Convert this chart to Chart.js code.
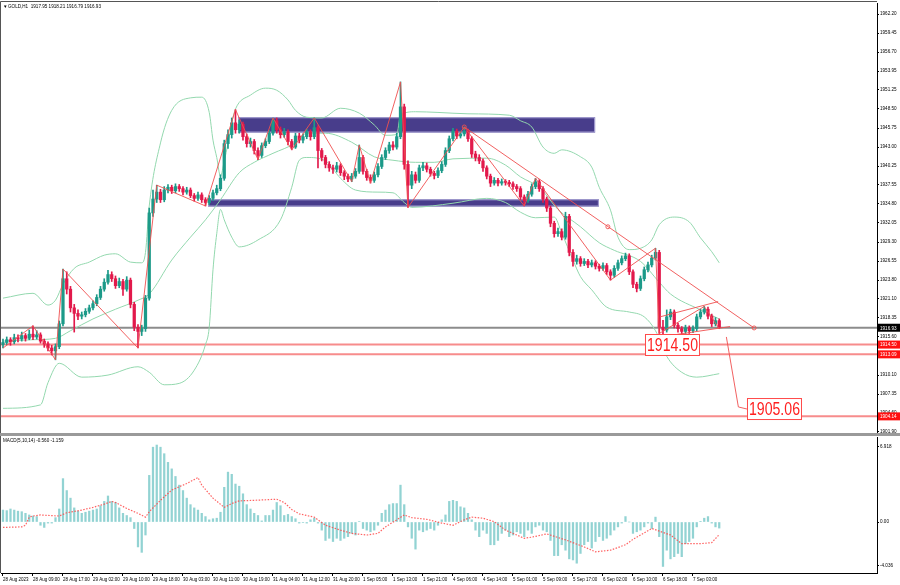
<!DOCTYPE html>
<html><head><meta charset="utf-8">
<script src="https://cdn.jsdelivr.net/npm/chart.js@4.4.0/dist/chart.umd.min.js"></script>
<style>
html,body{margin:0;padding:0;background:#fff;}
#wrap{position:relative;width:900px;height:585px;overflow:hidden;background:#fff;}
#main{position:absolute;left:0;top:0;}
#macd{position:absolute;left:0;top:436px;}
</style></head><body>
<div id="wrap"><canvas id="main" width="900" height="436"></canvas><canvas id="macd" width="900" height="149"></canvas></div>
<script>
// ---------- DATA ----------
const timeLabels = ["28 Aug 2023","28 Aug 09:00","28 Aug 17:00","29 Aug 02:00","29 Aug 10:00","29 Aug 18:00","30 Aug 03:00","30 Aug 11:00","30 Aug 19:00","31 Aug 04:00","31 Aug 12:00","31 Aug 20:00","1 Sep 05:00","1 Sep 13:00","1 Sep 21:00","4 Sep 06:00","4 Sep 14:00","5 Sep 01:00","5 Sep 09:00","5 Sep 17:00","6 Sep 02:00","6 Sep 10:00","6 Sep 18:00","7 Sep 03:00"];
const barsPerTimeLabel = 8;

const opens = [
1914.5,1914.8,1915.2,1914.9,1915.5,1915.3,1915.8,1915.4,1916.0,1915.6,
1915.9,1915.0,1914.6,1914.0,1913.6,1914.2,1917.5,1924.0,1922.5,1919.8,
1919.0,1918.6,1918.8,1919.3,1919.8,1920.4,1921.3,1922.5,1923.5,1924.6,
1924.0,1923.0,1923.6,1922.5,1923.8,1920.3,1917.0,1916.4,1916.8,1921.2,
1933.5,1935.5,1936.5,1935.4,1936.8,1937.2,1936.7,1937.3,1937.0,1936.5,
1936.8,1936.0,1935.6,1936.1,1935.4,1935.0,1935.6,1936.4,1937.0,1938.5,
1943.5,1944.8,1946.5,1945.5,1946.3,1944.5,1943.5,1943.8,1942.5,1941.8,
1943.2,1943.8,1945.0,1946.8,1945.5,1944.8,1945.2,1943.8,1943.0,1944.6,
1944.0,1944.5,1945.2,1944.5,1945.8,1942.5,1941.5,1940.5,1940.0,1939.8,
1940.3,1939.3,1938.8,1938.4,1938.8,1939.5,1941.5,1939.5,1938.6,1938.2,
1939.0,1940.2,1941.5,1942.5,1943.3,1943.0,1944.5,1948.8,1940.5,1937.5,
1939.0,1938.2,1940.0,1940.3,1939.8,1939.2,1938.9,1939.6,1940.5,1942.5,
1944.2,1945.3,1944.6,1944.9,1945.3,1944.2,1942.0,1941.5,1941.0,1940.0,
1938.8,1937.8,1938.2,1937.8,1938.0,1937.9,1937.7,1937.3,1937.0,1935.8,
1935.3,1936.2,1937.3,1938.0,1937.0,1935.5,1934.2,1932.0,1930.5,1930.8,
1930.0,1933.0,1927.8,1926.5,1926.9,1926.2,1926.5,1926.0,1926.3,1925.8,
1925.5,1925.9,1925.0,1924.5,1925.5,1926.3,1926.9,1927.3,1925.0,1923.2,
1922.6,1924.0,1925.3,1926.0,1927.0,1927.8,1917.0,1916.6,1918.5,1919.2,
1917.3,1916.8,1916.4,1916.9,1916.5,1916.8,1918.5,1919.2,1919.6,1918.6,
1917.5,1917.95];
const highs = [
1915.3,1915.6,1915.5,1916.0,1915.9,1916.3,1916.1,1916.6,1917.2,1916.5,
1916.2,1915.3,1914.9,1914.4,1914.6,1917.9,1925.4,1925.0,1922.9,1920.3,
1919.5,1919.2,1919.7,1920.2,1920.8,1921.7,1922.9,1924.0,1925.2,1925.0,
1924.4,1924.1,1923.9,1924.3,1924.1,1920.6,1917.4,1917.3,1921.6,1934.2,
1936.8,1937.5,1936.9,1937.3,1937.6,1937.5,1937.7,1937.6,1937.3,1937.2,
1937.1,1936.3,1936.5,1936.4,1935.7,1936.0,1936.8,1937.5,1939.0,1944.0,
1945.5,1947.2,1948.4,1946.9,1946.6,1944.9,1944.3,1944.1,1942.9,1943.6,
1944.2,1945.4,1947.2,1947.2,1945.9,1945.7,1945.5,1944.1,1945.0,1945.0,
1944.9,1945.6,1945.5,1947.2,1946.1,1942.8,1941.8,1940.9,1940.4,1940.8,
1940.6,1939.6,1939.1,1939.2,1939.9,1943.3,1941.8,1939.8,1939.0,1939.4,
1940.6,1941.9,1942.9,1943.7,1943.8,1945.0,1952.4,1949.2,1941.0,1939.5,
1939.4,1940.4,1940.8,1940.7,1940.1,1939.5,1940.0,1940.9,1942.9,1944.6,
1945.7,1945.6,1945.3,1945.9,1945.6,1944.5,1942.4,1941.9,1941.3,1940.3,
1939.1,1938.6,1938.5,1938.4,1938.3,1938.2,1938.0,1937.6,1937.3,1936.1,
1936.6,1937.7,1938.5,1938.3,1937.3,1935.8,1934.5,1932.3,1931.3,1931.2,
1933.6,1933.3,1928.2,1927.4,1927.2,1926.9,1926.8,1926.7,1926.6,1926.1,
1926.3,1926.2,1925.3,1925.9,1926.7,1927.3,1927.7,1927.6,1925.3,1923.5,
1924.4,1925.7,1926.4,1927.4,1928.4,1928.1,1918.0,1919.5,1919.6,1919.5,
1917.6,1917.1,1917.3,1917.2,1917.2,1918.9,1919.6,1920.0,1919.9,1918.9,
1918.4,1918.21];
const lows = [
1914.0,1914.5,1914.4,1914.6,1914.9,1915.0,1915.0,1915.2,1915.2,1915.3,
1914.7,1914.1,1913.6,1913.0,1912.3,1913.9,1917.2,1921.8,1919.2,1916.3,
1918.1,1918.2,1918.5,1919.0,1919.5,1920.1,1921.0,1922.2,1923.2,1923.6,
1922.6,1922.7,1921.6,1922.2,1919.8,1916.5,1914.0,1915.8,1916.4,1920.9,
1933.0,1935.0,1935.0,1935.1,1936.4,1936.3,1936.4,1936.6,1936.1,1936.2,
1935.7,1935.2,1935.3,1935.0,1934.5,1934.7,1935.3,1936.1,1936.7,1938.2,
1942.8,1944.3,1945.0,1945.0,1944.0,1943.0,1943.0,1942.0,1941.2,1941.5,
1942.9,1943.5,1944.7,1945.0,1944.3,1944.4,1943.3,1942.6,1942.8,1943.6,
1943.6,1944.2,1944.0,1944.2,1940.0,1941.0,1940.0,1939.5,1939.2,1939.4,
1938.9,1938.3,1938.0,1938.0,1938.5,1939.2,1939.1,1938.2,1937.8,1937.9,
1938.7,1939.9,1941.2,1942.1,1942.6,1942.7,1944.2,1939.8,1934.3,1937.0,
1937.8,1937.9,1939.6,1939.4,1938.8,1938.4,1938.6,1939.3,1940.2,1942.2,
1943.9,1944.2,1944.3,1944.6,1943.8,1941.5,1941.0,1940.6,1939.5,1938.4,
1937.3,1937.5,1937.4,1937.5,1937.5,1937.3,1936.9,1936.6,1935.4,1934.5,
1935.0,1935.9,1937.0,1936.6,1935.0,1933.7,1931.5,1930.0,1930.1,1929.6,
1929.7,1927.3,1925.8,1926.1,1925.8,1925.9,1925.6,1925.7,1925.4,1925.1,
1925.2,1924.6,1923.8,1924.2,1925.2,1926.0,1926.6,1924.6,1922.7,1922.1,
1922.3,1923.7,1925.0,1925.7,1926.7,1916.1,1916.0,1916.3,1918.1,1916.9,
1916.3,1916.0,1916.1,1916.1,1916.2,1916.5,1918.2,1918.9,1918.2,1917.1,
1917.2,1916.79];
const closes = [
1914.8,1915.2,1914.9,1915.5,1915.3,1915.8,1915.4,1916.0,1915.6,1915.9,
1915.0,1914.6,1914.0,1913.6,1914.2,1917.5,1924.0,1922.5,1919.8,1919.0,
1918.6,1918.8,1919.3,1919.8,1920.4,1921.3,1922.5,1923.5,1924.6,1924.0,
1923.0,1923.6,1922.5,1923.8,1920.3,1917.0,1916.4,1916.8,1921.2,1933.5,
1935.5,1936.5,1935.4,1936.8,1937.2,1936.7,1937.3,1937.0,1936.5,1936.8,
1936.0,1935.6,1936.1,1935.4,1935.0,1935.6,1936.4,1937.0,1938.5,1943.5,
1944.8,1946.5,1945.5,1946.3,1944.5,1943.5,1943.8,1942.5,1941.8,1943.2,
1943.8,1945.0,1946.8,1945.5,1944.8,1945.2,1943.8,1943.0,1944.6,1944.0,
1944.5,1945.2,1944.5,1945.8,1942.5,1941.5,1940.5,1940.0,1939.8,1940.3,
1939.3,1938.8,1938.4,1938.8,1939.5,1941.5,1939.5,1938.6,1938.2,1939.0,
1940.2,1941.5,1942.5,1943.3,1943.0,1944.5,1948.8,1940.5,1937.5,1939.0,
1938.2,1940.0,1940.3,1939.8,1939.2,1938.9,1939.6,1940.5,1942.5,1944.2,
1945.3,1944.6,1944.9,1945.3,1944.2,1942.0,1941.5,1941.0,1940.0,1938.8,
1937.8,1938.2,1937.8,1938.0,1937.9,1937.7,1937.3,1937.0,1935.8,1935.3,
1936.2,1937.3,1938.0,1937.0,1935.5,1934.2,1932.0,1930.5,1930.8,1930.0,
1933.0,1927.8,1926.5,1926.9,1926.2,1926.5,1926.0,1926.3,1925.8,1925.5,
1925.9,1925.0,1924.5,1925.5,1926.3,1926.9,1927.3,1925.0,1923.2,1922.6,
1924.0,1925.3,1926.0,1927.0,1927.8,1917.0,1916.6,1918.5,1919.2,1917.3,
1916.8,1916.4,1916.9,1916.5,1916.8,1918.5,1919.2,1919.6,1918.6,1917.5,
1917.95,1916.93];

// Bollinger bands: [bar index, price]
const upperBand = [[0,1921.2],[8,1921.9],[12,1920.2],[14,1920.9],[16,1923.2],[19,1925.5],[23,1926.4],[27,1927.4],[30,1927.6],[34,1926.4],[37,1926.3],[38,1927.8],[39,1934.5],[42,1943.6],[45,1948.3],[50,1950.1],[53,1950.2],[55,1948.0],[56,1944.0],[57,1941.5],[58,1938.8],[59,1941.0],[60,1943.5],[61,1946.5],[62,1948.5],[66,1950.5],[70,1951.5],[73,1951.2],[76,1949.8],[78,1948.3],[81,1947.3],[85,1947.2],[90,1948.6],[95,1947.9],[99,1946.2],[102,1944.7],[105,1944.8],[106,1947.6],[110,1948.1],[116,1948.0],[124,1947.8],[135,1947.6],[138,1946.8],[141,1945.9],[144,1943.0],[147,1942.1],[149,1942.6],[154,1941.6],[157,1940.1],[159,1937.2],[162,1933.9],[164,1930.0],[167,1928.2],[170,1928.4],[173,1929.6],[175,1931.8],[179,1932.9],[183,1932.2],[186,1929.9],[189,1927.9],[191,1926.3]];
const middleBand = [[0,1915.0],[8,1915.2],[14,1915.4],[18,1916.5],[24,1918.2],[30,1919.6],[36,1920.9],[39,1921.8],[45,1926.7],[50,1930.0],[54,1932.5],[58,1935.4],[63,1939.3],[67,1940.8],[72,1942.1],[78,1943.6],[81,1945.0],[86,1945.0],[93,1943.7],[99,1941.6],[104,1941.1],[110,1940.8],[115,1940.8],[120,1941.3],[129,1941.4],[134,1940.4],[138,1938.7],[143,1937.2],[148,1934.0],[154,1931.5],[159,1929.2],[163,1928.1],[170,1926.5],[175,1923.5],[178,1921.8],[186,1919.5],[191,1918.2]];
const lowerBand = [[0,1905.3],[10,1905.8],[12,1909.0],[15,1911.8],[21,1909.8],[28,1910.1],[36,1911.3],[39,1910.5],[43,1908.7],[47,1908.9],[51,1910.8],[54,1914.5],[55,1917.0],[56,1925.3],[57,1930.5],[58,1934.0],[59,1932.5],[61,1930.0],[63,1928.6],[68,1929.6],[74,1932.5],[77,1937.2],[79,1941.1],[81,1941.5],[86,1941.0],[90,1938.5],[94,1936.8],[100,1936.5],[104,1936.4],[107,1935.0],[109,1934.3],[120,1934.9],[129,1935.6],[134,1935.0],[138,1933.6],[142,1932.8],[147,1932.9],[149,1930.6],[152,1926.7],[154,1924.3],[157,1922.4],[161,1919.9],[167,1919.2],[171,1918.5],[174,1916.5],[177,1912.8],[181,1910.5],[185,1909.8],[191,1910.3]];

// ZigZag and drawn lines: [bar index, price]
const zigzag = [[0,1914.0],[8,1917.2],[14,1912.3],[16,1925.4],[36,1914.0],[41,1937.5],[54,1934.5],[62,1948.4],[68,1941.2],[72,1947.2],[77,1942.6],[83,1947.2],[93,1938.0],[95,1943.3],[98,1937.8],[106,1952.4],[108,1934.3],[123,1945.9],[139,1934.5],[142,1938.5],[162,1923.8],[174,1928.4],[175,1916.1],[187,1920.0],[191,1916.79]];
const trendLine = [[123,1945.9],[200.3,1916.9]];
const triangleUpper = [[175.2,1918.5],[190.7,1920.7]];
const triangleLower = [[175.2,1915.6],[193.9,1917.1]];
const projection = [[192.9,1915.6],[196.1,1905.5],[198.4,1905.2]];
const trendMarkers = [[123,1945.9],[161.3,1931.5],[200.3,1916.9]];

// Levels and zones
const currentPrice = 1916.93;
const redLevels = [1914.50, 1913.09, 1904.14];
const zones = [{from:62.7,to:157.9,top:1947.3,bottom:1945.1},{from:54.7,to:158.9,top:1935.46,bottom:1934.42}];
const priceTicks = [1962.20,1959.45,1956.70,1953.95,1951.25,1948.50,1945.75,1943.00,1940.25,1937.55,1934.80,1932.05,1929.30,1926.55,1923.80,1921.10,1918.35,1915.60,1912.85,1910.10,1907.35,1904.60,1901.90];
const targetLabels = [{text:"1914.50", at:[171.2,1914.44]},{text:"1905.06", at:[198.4,1905.2]}];
const headerText = "GOLD,H1  1917.95 1918.21 1916.79 1916.93";

// MACD
const macdHist = [
1.1,1.05,1.2,1.1,1.0,0.95,0.8,0.65,0.55,0.5,
-0.3,-0.5,-0.1,-0.1,0.4,1.2,4.0,2.9,2.2,1.3,
1.0,0.8,0.9,1.0,1.1,1.2,1.5,1.9,2.4,1.9,
1.8,1.3,0.8,0.6,0.4,-0.6,-2.3,-2.8,-1.2,4.3,
6.9,7.1,6.9,6.3,5.5,4.9,4.2,3.4,2.9,2.2,
1.6,1.3,1.1,0.8,0.5,0.2,0.3,0.35,0.9,3.2,
4.6,4.4,3.5,3.3,2.6,1.6,1.2,0.8,0.6,0.1,
0.6,0.6,1.1,1.8,1.5,0.6,0.7,0.5,0.3,-0.1,
-0.05,-0.1,0.2,0.35,-0.1,-0.75,-1.7,-1.5,-1.8,-1.5,
-1.7,-1.5,-1.35,-1.05,-1.2,0.05,-0.6,-0.75,-0.9,-0.75,
-0.3,0.8,1.1,1.6,1.7,1.7,3.4,1.6,-0.45,-1.5,
-2.5,-0.75,-0.9,-0.75,-0.6,-0.75,-0.3,0.2,0.65,1.9,
2.0,1.9,1.4,1.3,0.8,0.2,-0.75,-1.35,-0.75,-1.05,
-2.1,-2.1,-1.7,-1.05,-0.75,-1.35,-1.2,-0.9,-1.05,-1.35,
-0.75,-1.05,-0.45,-0.3,-0.75,-0.9,-1.7,-3.1,-3.1,-2.1,
-2.6,-3.4,-3.5,-3.8,-2.9,-2.1,-1.8,-2.4,-1.8,-1.35,
-1.7,-1.5,-1.2,-0.75,-0.45,-0.1,0.5,0.0,-1.05,-0.9,
-0.75,-0.45,-0.1,-0.6,0.45,-1.35,-4.1,-2.6,-3.4,-3.2,
-2.9,-3.2,-2.0,-1.8,-1.5,-0.45,0.03,0.35,0.5,-0.1,
-0.45,-0.56];
const macdSignal = [[0,-0.5],[5,-0.45],[6,-0.3],[7,0.45],[8,0.55],[10,0.65],[15,0.55],[17,0.85],[21,1.1],[24,1.35],[27,1.65],[29,1.9],[30,1.8],[33,1.25],[36,0.8],[38,0.45],[39,0.95],[42,2.0],[45,2.95],[49,3.55],[52,4.1],[53,3.4],[56,2.2],[59,1.35],[61,1.7],[63,1.95],[67,2.0],[73,2.1],[75,1.8],[77,1.15],[79,0.75],[83,0.45],[86,-0.3],[90,-0.75],[93,-1.05],[97,-1.2],[100,-1.05],[102,-0.45],[105,0.2],[107,0.65],[109,0.4],[113,0.25],[117,-0.1],[120,-0.3],[123,0.2],[125,0.45],[128,0.35],[131,0.03],[134,-0.75],[139,-1.5],[141,-1.4],[145,-1.1],[150,-1.65],[155,-2.3],[158,-2.75],[162,-2.6],[166,-2.1],[168,-1.6],[173,-0.6],[178,-1.2],[181,-2.0],[186,-2.0],[189,-1.9],[191,-1.16]];
const macdTicks = [6.918, 0, -4.036];
const macdTickLabels = ["6.918", "0.00", "-4.036"];
const macdHeader = "MACD(5,10,14) -0.560 -1.159";

// ---------- STYLE / LAYOUT ----------
const BULL = '#1c9a89', BEAR = '#e2194b', BAND = '#93d8ae', ZZ = 'rgba(240,80,80,0.9)';
const FONT = '"Liberation Sans", Arial, sans-serif';
const AXIS_W = 23;
const X_MIN = -0.53, X_MAX = 233.07;
const Y_MIN = 1901.74, Y_MAX = 1963.79;
const M_MIN = -4.704, M_MAX = 7.84;

const N = closes.length;
const idx = Array.from({length: N}, (_, i) => i);
const pts = arr => arr.map(p => ({x: p[0], y: p[1]}));
const isBull = i => closes[i] >= opens[i];

function lineDs(data, color, width, order, extra) {
  return Object.assign({type:'line', data: pts(data), borderColor: color, borderWidth: width, pointRadius: 0, fill: false, tension: 0, order: order}, extra || {});
}

const mainOverlay = {
  id: 'mainOverlay',
  beforeDatasetsDraw(chart) {
    const {ctx, chartArea: a, scales: {x, y}} = chart;
    ctx.save();
    ctx.beginPath(); ctx.rect(a.left, a.top, a.width, a.height); ctx.clip();
    zones.forEach(z => {
      const x0 = x.getPixelForValue(z.from), x1 = x.getPixelForValue(z.to);
      const y0 = y.getPixelForValue(z.top), y1 = y.getPixelForValue(z.bottom);
      ctx.fillStyle = '#483d8b';
      ctx.fillRect(x0, y0, x1 - x0, y1 - y0);
      ctx.strokeStyle = '#a9a3d6'; ctx.lineWidth = 1;
      ctx.strokeRect(x0 + 0.5, y0 + 0.5, x1 - x0 - 1, y1 - y0 - 1);
    });
    const hl = (v, color, w) => { const py = y.getPixelForValue(v); ctx.strokeStyle = color; ctx.lineWidth = w; ctx.beginPath(); ctx.moveTo(a.left, py); ctx.lineTo(a.right, py); ctx.stroke(); };
    redLevels.forEach(v => hl(v, 'rgba(246,120,120,0.85)', 2));
    hl(currentPrice, '#8c8c8c', 2);
    ctx.restore();
  },
  afterDatasetsDraw(chart) {
    const {ctx, chartArea: a, scales: {x, y}} = chart;
    ctx.save();
    ctx.beginPath(); ctx.rect(a.left, a.top, a.width, a.height); ctx.clip();
    ctx.strokeStyle = ZZ; ctx.lineWidth = 1;
    trendMarkers.forEach(m => { ctx.beginPath(); ctx.arc(x.getPixelForValue(m[0]), y.getPixelForValue(m[1]), 2, 0, Math.PI * 2); ctx.stroke(); });
    targetLabels.forEach(b => {
      const w = 55, h = 22;
      const px = x.getPixelForValue(b.at[0]), py = y.getPixelForValue(b.at[1]);
      ctx.fillStyle = '#fff'; ctx.fillRect(px, py - h / 2, w, h);
      ctx.strokeStyle = '#ff4a4a'; ctx.lineWidth = 1; ctx.strokeRect(px + 0.5, py - h / 2 + 0.5, w - 1, h - 1);
      ctx.font = '18px "Liberation Sans Narrow", "Liberation Sans", Arial, sans-serif';
      const tw = ctx.measureText(b.text).width, sx = Math.min(1, (w - 4) / tw);
      ctx.save(); ctx.translate(px + w / 2, py + 1); ctx.scale(sx, 1);
      ctx.fillStyle = '#ff1f1f'; ctx.textAlign = 'center'; ctx.textBaseline = 'middle';
      ctx.fillText(b.text, 0, 0); ctx.restore();
    });
    ctx.restore();
  },
  afterDraw(chart) {
    const {ctx, chartArea: a, scales: {y}} = chart;
    ctx.save();
    ctx.strokeStyle = '#555'; ctx.lineWidth = 1;
    ctx.beginPath(); ctx.moveTo(0.5, a.bottom); ctx.lineTo(0.5, 1.5); ctx.lineTo(a.right, 1.5); ctx.stroke();
    ctx.fillStyle = '#9a9a9a'; ctx.fillRect(0, a.bottom, 900, 3);
    ctx.font = '4.6px ' + FONT; ctx.fillStyle = '#000'; ctx.textBaseline = 'middle'; ctx.textAlign = 'left';
    ctx.fillText('\u25BC', 3, 6.5);
    ctx.fillText(headerText, 8, 6.5);
    const tag = (v, bg) => {
      const py = y.getPixelForValue(v);
      ctx.fillStyle = bg; ctx.fillRect(a.right + 1, py - 4, AXIS_W - 1, 8);
      ctx.fillStyle = '#fff'; ctx.fillText(v.toFixed(2), a.right + 3, py + 0.5);
    };
    redLevels.forEach(v => tag(v, '#ff1010'));
    tag(currentPrice, '#000');
    ctx.restore();
  }
};

new Chart(document.getElementById('main'), {
  type: 'bar',
  data: {
    datasets: [
      lineDs(zigzag, ZZ, 1, 0),
      lineDs(trendLine, ZZ, 1, 0),
      lineDs(triangleUpper, ZZ, 1, 0),
      lineDs(triangleLower, ZZ, 1, 0),
      lineDs(projection, ZZ, 1, 0),
      {type: 'bar', data: idx.map(i => ({x: i, y: [Math.min(opens[i], closes[i]), Math.max(opens[i], closes[i])]})),
       backgroundColor: c => isBull(c.dataIndex) ? BULL : BEAR, barThickness: 2.6, minBarLength: 1, grouped: false, borderWidth: 0, order: 1},
      {type: 'bar', data: idx.map(i => ({x: i, y: [lows[i], highs[i]]})),
       backgroundColor: c => isBull(c.dataIndex) ? BULL : BEAR, barThickness: 1, grouped: false, borderWidth: 0, order: 2},
      lineDs(upperBand, BAND, 1, 3, {cubicInterpolationMode: 'monotone'}),
      lineDs(middleBand, BAND, 1, 3, {cubicInterpolationMode: 'monotone'}),
      lineDs(lowerBand, BAND, 1, 3, {cubicInterpolationMode: 'monotone'})
    ]
  },
  options: {
    responsive: false, animation: false, devicePixelRatio: 1,
    layout: {padding: {left: 1, right: 0, top: 3, bottom: 3}},
    plugins: {legend: {display: false}, tooltip: {enabled: false}},
    scales: {
      x: {type: 'linear', min: X_MIN, max: X_MAX, offset: false, display: false, grid: {offset: false}},
      y: {position: 'right', min: Y_MIN, max: Y_MAX,
          afterFit(s) { s.width = AXIS_W; s.paddingTop = 0; s.paddingBottom = 0; },
          afterBuildTicks(s) { s.ticks = priceTicks.map(v => ({value: v})); },
          ticks: {callback: v => Number(v).toFixed(2), font: {size: 4.6, family: FONT}, color: '#000', padding: 1, autoSkip: false},
          grid: {drawOnChartArea: false, tickLength: 2, color: '#000'},
          border: {display: true, color: '#000'}}
    }
  },
  plugins: [mainOverlay]
});

const macdOverlay = {
  id: 'macdOverlay',
  afterDraw(chart) {
    const {ctx, chartArea: a} = chart;
    ctx.save();
    ctx.strokeStyle = '#555'; ctx.lineWidth = 1;
    ctx.beginPath(); ctx.moveTo(0.5, a.bottom); ctx.lineTo(0.5, 0); ctx.stroke();
    ctx.font = '4.6px ' + FONT; ctx.fillStyle = '#000'; ctx.textBaseline = 'middle'; ctx.textAlign = 'left';
    ctx.fillText(macdHeader, 3, 5);
    ctx.restore();
  }
};

new Chart(document.getElementById('macd'), {
  type: 'bar',
  data: {
    datasets: [
      {type: 'line', data: pts(macdSignal), borderColor: 'rgba(255,70,70,0.85)', borderWidth: 1.2, borderDash: [1.5, 1.5], pointRadius: 0, fill: false, tension: 0, order: 0},
      {type: 'bar', data: idx.map(i => ({x: i, y: macdHist[i]})), backgroundColor: '#92d3d3', barThickness: 1.6, borderWidth: 0, order: 1}
    ]
  },
  options: {
    responsive: false, animation: false, devicePixelRatio: 1,
    layout: {padding: {left: 1, right: 0, top: 1, bottom: 0}},
    plugins: {legend: {display: false}, tooltip: {enabled: false}},
    scales: {
      x: {type: 'linear', min: X_MIN, max: X_MAX, offset: false,
          afterFit(s) { s.height = 12; s.paddingLeft = 0; s.paddingRight = 0; },
          afterBuildTicks(s) { s.ticks = timeLabels.map((_, k) => ({value: k * barsPerTimeLabel})); },
          ticks: {callback: (v, k) => timeLabels[k], align: 'start', maxRotation: 0, minRotation: 0, autoSkip: false, font: {size: 4.5, family: FONT}, color: '#000', padding: 1},
          grid: {drawOnChartArea: false, tickLength: 3, color: '#000', offset: false},
          border: {display: true, color: '#000'}},
      y: {position: 'right', min: M_MIN, max: M_MAX,
          afterFit(s) { s.width = AXIS_W; s.paddingTop = 0; s.paddingBottom = 0; },
          afterBuildTicks(s) { s.ticks = macdTicks.map(v => ({value: v})); },
          ticks: {callback: (v, k) => macdTickLabels[k], font: {size: 4.6, family: FONT}, color: '#000', padding: 1, autoSkip: false},
          grid: {drawOnChartArea: false, tickLength: 2, color: '#000'},
          border: {display: true, color: '#000'}}
    }
  },
  plugins: [macdOverlay]
});
</script>
</body></html>
